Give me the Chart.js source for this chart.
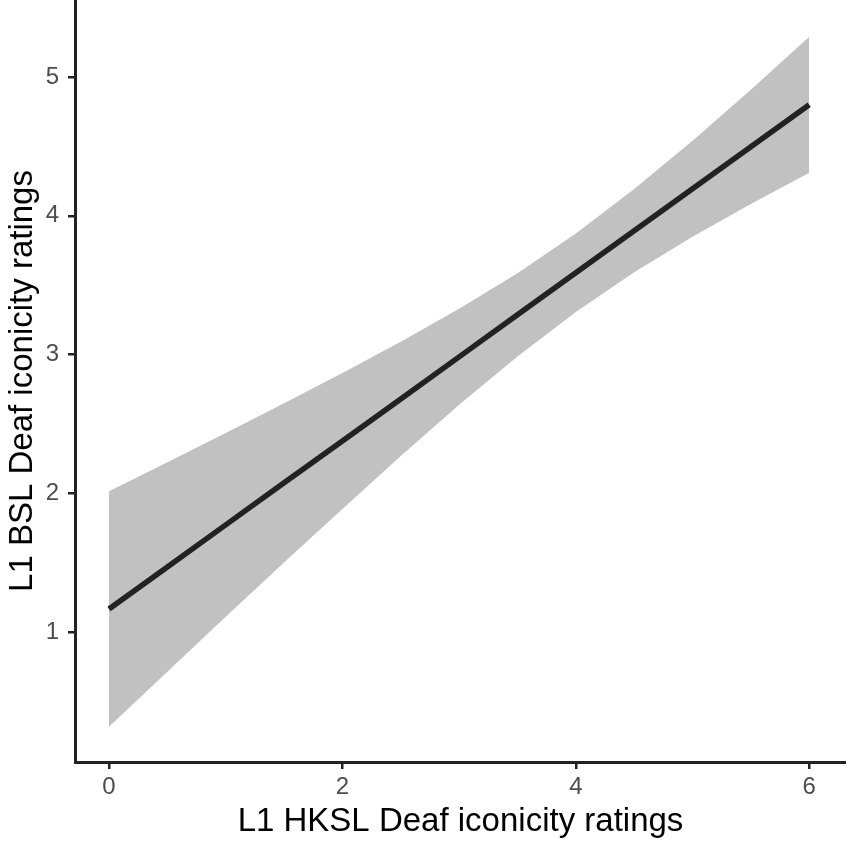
<!DOCTYPE html>
<html>
<head>
<meta charset="utf-8">
<script src="https://cdn.jsdelivr.net/npm/chart.js@4/dist/chart.umd.min.js"></script>
<style>
  html, body { margin: 0; padding: 0; background: #ffffff; }
  #wrap { width: 846px; height: 850px; }
</style>
</head>
<body>
<div id="wrap"><canvas id="c" width="846" height="850"></canvas></div>
<script>
// x positions (L1 HKSL Deaf iconicity ratings)
const xValues   = [0, 0.5, 1, 1.5, 2, 2.5, 3, 3.5, 4, 4.5, 5, 5.5, 6];
// fitted line (L1 BSL Deaf iconicity ratings)
const fitValues = [1.166, 1.469, 1.772, 2.075, 2.377, 2.680, 2.983, 3.286, 3.589, 3.892, 4.195, 4.497, 4.800];
// confidence band upper / lower
const upperValues = [2.015, 2.224, 2.435, 2.649, 2.867, 3.092, 3.329, 3.586, 3.872, 4.192, 4.541, 4.909, 5.290];
const lowerValues = [0.317, 0.714, 1.109, 1.501, 1.887, 2.268, 2.637, 2.986, 3.306, 3.592, 3.849, 4.085, 4.310];
// tick labels
const xTicks = [0, 2, 4, 6];
const yTicks = [1, 2, 3, 4, 5];
const xTitle = 'L1 HKSL Deaf iconicity ratings';
const yTitle = 'L1 BSL Deaf iconicity ratings';

const pts = arr => xValues.map((x, i) => ({ x: x, y: arr[i] }));

const axisColor = '#222222';
const tickFont = { family: '"Liberation Sans", Arial, sans-serif', size: 24 };
const titleFont = { family: '"Liberation Sans", Arial, sans-serif', size: 33 };

new Chart(document.getElementById('c'), {
  type: 'line',
  data: {
    datasets: [
      { label: 'fit', data: pts(fitValues), borderWidth: 5.5, pointRadius: 0,
        borderColor: '#222222', fill: false, borderCapStyle: 'butt', order: 0 },
      { label: 'upper', data: pts(upperValues), borderWidth: 0, pointRadius: 0,
        backgroundColor: '#c1c1c1', fill: '+1', borderColor: 'rgba(0,0,0,0)', order: 1 },
      { label: 'lower', data: pts(lowerValues), borderWidth: 0, pointRadius: 0,
        backgroundColor: '#c1c1c1', fill: false, borderColor: 'rgba(0,0,0,0)', order: 2 }
    ]
  },
  options: {
    responsive: false,
    animation: false,
    events: [],
    layout: { padding: 0 },
    plugins: { legend: { display: false }, tooltip: { enabled: false } },
    scales: {
      x: {
        type: 'linear',
        min: -0.2914,
        max: 6.315,
        afterBuildTicks: s => { s.ticks = xTicks.map(v => ({ value: v })); },
        afterFit: s => { s.height = 88; s.paddingLeft = 0; s.paddingRight = 0; },
        border: { display: true, color: axisColor, width: 3 },
        grid: { display: true, drawOnChartArea: false, drawTicks: true, tickLength: 7, color: axisColor, lineWidth: 2.5 },
        ticks: { font: tickFont, color: '#4d4d4d', padding: 4, maxRotation: 0 },
        title: { display: true, text: xTitle, font: titleFont, color: '#000000', padding: { top: 0, bottom: 8 } }
      },
      y: {
        type: 'linear',
        min: 0.063,
        max: 5.555,
        afterBuildTicks: s => { s.ticks = yTicks.map(v => ({ value: v })); },
        afterFit: s => { s.width = 75; s.paddingTop = 0; s.paddingBottom = 0; },
        border: { display: true, color: axisColor, width: 3 },
        grid: { display: true, drawOnChartArea: false, drawTicks: true, tickLength: 7, color: axisColor, lineWidth: 2.5 },
        ticks: { font: tickFont, color: '#4d4d4d', padding: 9 },
        title: { display: true, text: yTitle, font: titleFont, color: '#000000', padding: { top: 3, bottom: 0 } }
      }
    }
  }
});
</script>
</body>
</html>
